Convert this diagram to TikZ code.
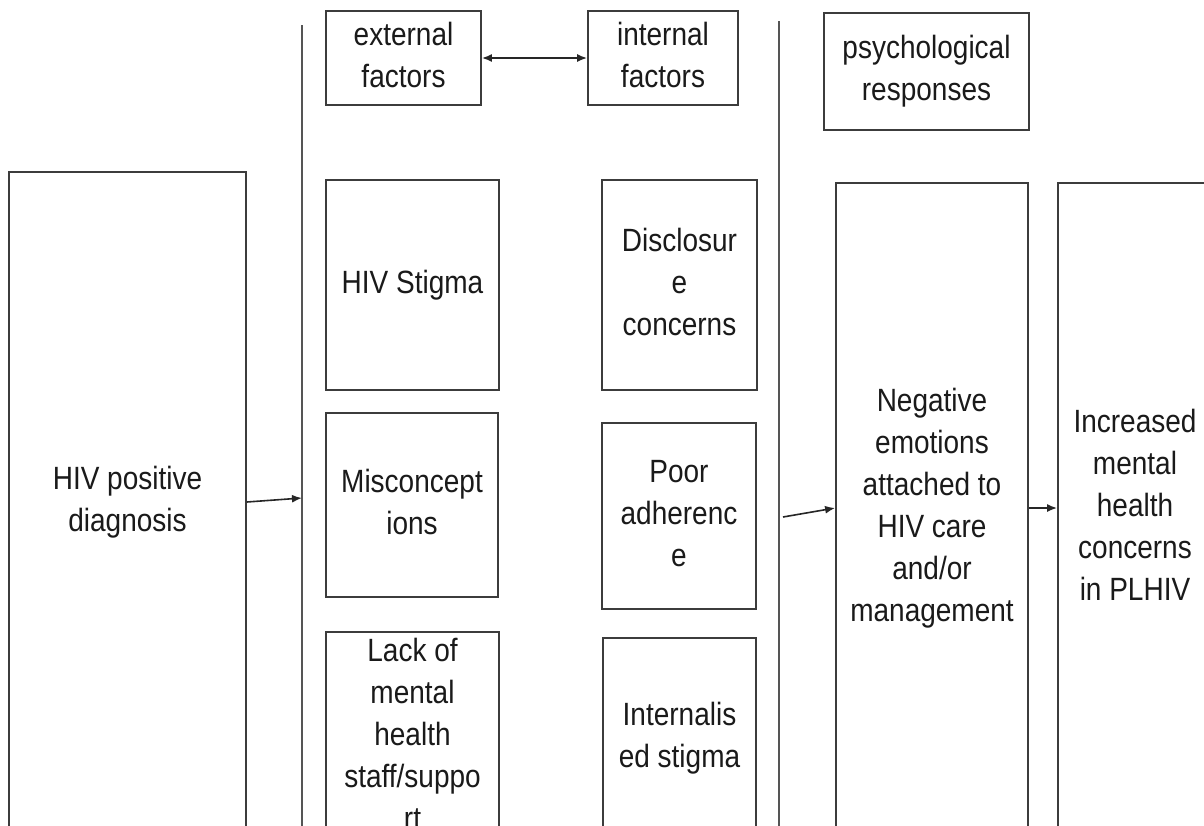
\documentclass[tikz,border=0pt]{standalone}
\usepackage{fontspec}
\setmainfont{Liberation Sans}
\usepackage{graphicx}
\usetikzlibrary{arrows.meta}
\definecolor{boxc}{HTML}{3C3C3C}
\definecolor{divc}{HTML}{555555}
\definecolor{txtc}{HTML}{1A1A1A}
\newcommand\tl[1]{\scalebox{1}[1.15]{\begin{tabular}{@{}c@{}}#1\end{tabular}}}
\begin{document}
\begin{tikzpicture}[x=1pt,y=-1pt,
  box/.style={draw=boxc, line width=1.8pt, inner sep=0pt, text=txtc,
    font=\fontsize{28}{36.5}\selectfont},
  divider/.style={draw=divc, line width=1.8pt},
  arr/.style={draw=black!85, line width=1.6pt, -{Latex[length=10pt,width=8pt]}},
  darr/.style={draw=black!85, line width=1.6pt, {Latex[length=10pt,width=8pt]}-{Latex[length=10pt,width=8pt]}},
]
\useasboundingbox (0,0) rectangle (1204,825);
\clip (0,0) rectangle (1204,825);
\fill[white] (0,0) rectangle (1204,825);

% dividers
\coordinate (d1top) at (302,25);
\coordinate (d1bot) at (302,830);
\coordinate (d2top) at (779,21);
\coordinate (d2bot) at (779,830);
\draw[divider] (d1top) -- (d1bot);
\draw[divider] (d2top) -- (d2bot);

% header boxes
\node[box, minimum width=155pt, minimum height=94pt] (ext) at (403.5,58) {\tl{external\\factors}};
\node[box, minimum width=150pt, minimum height=94pt] (int) at (663,58) {\tl{internal\\factors}};
\node[box, minimum width=205pt, minimum height=117pt] (psy) at (926.5,71.5) {\tl{psychological\\responses}};

% main boxes
\node[box, minimum width=237pt, minimum height=660pt] (hiv) at (127.5,502) {\tl{HIV positive\\diagnosis}};
\node[box, minimum width=173pt, minimum height=210pt] (stig) at (412.5,285) {\tl{HIV Stigma}};
\node[box, minimum width=172pt, minimum height=184pt] (misc) at (412,505) {\tl{Misconcept\\ions}};
\node[box, minimum width=173pt, minimum height=208pt] (lack) at (412.5,737) {\tl{Lack of\\mental\\health\\staff/suppo\\rt}};
\node[box, minimum width=155pt, minimum height=210pt] (disc) at (679.5,285) {\tl{Disclosur\\e\\concerns}};
\node[box, minimum width=154pt, minimum height=186pt] (poor) at (679,516) {\tl{Poor\\adherenc\\e}};
\node[box, minimum width=153pt, minimum height=200pt] (intl) at (679.5,738) {\tl{Internalis\\ed stigma}};
\node[box, minimum width=192pt, minimum height=650pt] (neg) at (932,508) {\tl{Negative\\emotions\\attached to\\HIV care\\and/or\\management}};
\node[box, minimum width=154pt, minimum height=650pt] (inc) at (1135,508) {\tl{Increased\\mental\\health\\concerns\\in PLHIV}};

% connectors
\coordinate (a1end) at (302,498);
\coordinate (a2start) at (783,517);
\draw[darr] (ext.east) -- (int.west);
\draw[arr] (hiv.east) -- (a1end);
\draw[arr] (a2start) -- (neg.west);
\draw[arr] (neg.east) -- (inc.west);
\end{tikzpicture}
\end{document}
